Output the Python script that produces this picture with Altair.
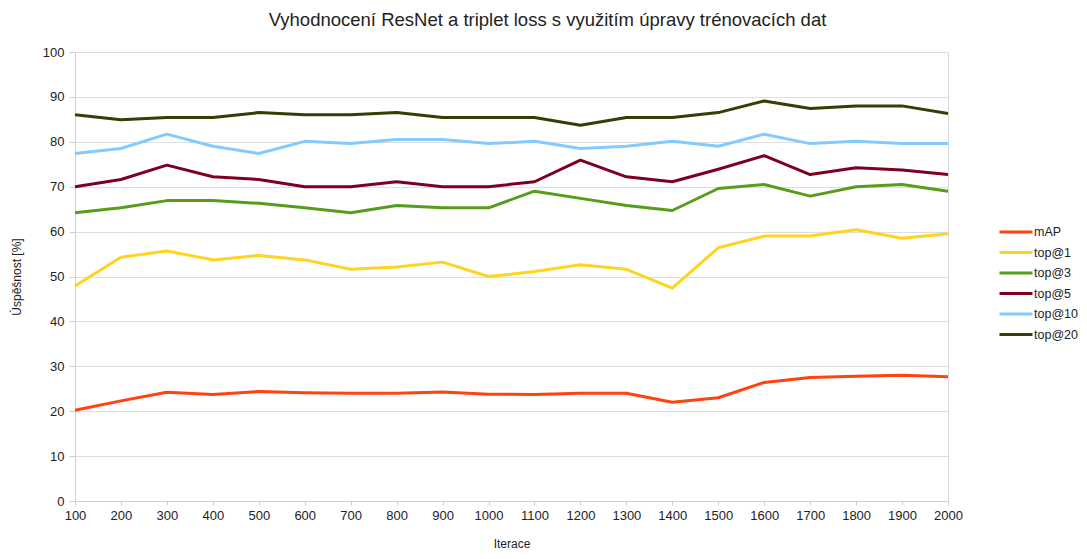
import altair as alt
import pandas as pd

iterations = [100, 200, 300, 400, 500, 600, 700, 800, 900, 1000,
              1100, 1200, 1300, 1400, 1500, 1600, 1700, 1800, 1900, 2000]
series_names = ["mAP", "top@1", "top@3", "top@5", "top@10", "top@20"]
series_colors = ["#ff420e", "#ffd320", "#579d1c", "#7e0021", "#83caff", "#314004"]

map_vals = [20.2, 22.3, 24.2, 23.7, 24.4, 24.1, 24.0, 24.0, 24.3, 23.8,
            23.7, 24.0, 24.0, 22.0, 23.0, 26.4, 27.5, 27.8, 28.0, 27.7]
top1_vals = [47.9, 54.3, 55.7, 53.7, 54.7, 53.7, 51.6, 52.1, 53.2, 50.0,
             51.1, 52.6, 51.6, 47.4, 56.4, 59.0, 59.0, 60.4, 58.5, 59.5]
top3_vals = [64.2, 65.3, 66.9, 66.9, 66.3, 65.3, 64.2, 65.8, 65.3, 65.3,
             69.0, 67.4, 65.8, 64.7, 69.6, 70.5, 67.9, 70.0, 70.5, 69.0]
top5_vals = [70.0, 71.6, 74.8, 72.2, 71.6, 70.0, 70.0, 71.1, 70.0, 70.0,
             71.1, 75.9, 72.2, 71.1, 73.9, 76.9, 72.7, 74.2, 73.7, 72.7]
top10_vals = [77.4, 78.5, 81.7, 79.0, 77.4, 80.1, 79.6, 80.5, 80.5, 79.6,
              80.1, 78.5, 79.0, 80.1, 79.0, 81.7, 79.6, 80.1, 79.6, 79.6]
top20_vals = [86.0, 84.9, 85.4, 85.4, 86.5, 86.0, 86.0, 86.5, 85.4, 85.4,
              85.4, 83.7, 85.4, 85.4, 86.5, 89.1, 87.4, 88.0, 88.0, 86.3]

y_ticks = [0, 10, 20, 30, 40, 50, 60, 70, 80, 90, 100]

all_vals = [map_vals, top1_vals, top3_vals, top5_vals, top10_vals, top20_vals]
rows = []
for name, vals in zip(series_names, all_vals):
    for it, v in zip(iterations, vals):
        rows.append({"Iterace": it, "value": v, "series": name})
df = pd.DataFrame(rows)

FONT = "Liberation Sans"

chart = alt.Chart(df).mark_line(strokeWidth=3, strokeJoin="round").encode(
    x=alt.X("Iterace:Q",
            scale=alt.Scale(domain=[100, 2000], nice=False, zero=False),
            axis=alt.Axis(values=iterations, format="d", grid=False,
                          title="Iterace", tickSize=4, labelPadding=4,
                          titlePadding=16, labelFontSize=13, titleFontSize=12,
                          labelFlush=False, labelOverlap=False)),
    y=alt.Y("value:Q",
            scale=alt.Scale(domain=[0, 100], nice=False),
            axis=alt.Axis(values=y_ticks, title="Úspěšnost [%]", tickSize=6,
                          labelPadding=5, titlePadding=19, labelFontSize=13,
                          titleFontSize=12)),
    color=alt.Color("series:N",
                    scale=alt.Scale(domain=series_names, range=series_colors),
                    sort=series_names,
                    legend=alt.Legend(title=None, orient="none",
                                      legendX=931, legendY=170,
                                      symbolType="M-2,0L2,0",
                                      symbolSize=272, symbolStrokeWidth=3,
                                      labelOffset=8, rowPadding=3.5,
                                      labelFontSize=12.5, padding=0)),
    detail="series:N",
).properties(
    width=873,
    height=449,
    autosize=alt.AutoSizeParams(type="none"),
    padding={"left": 67, "top": 44, "right": 131, "bottom": 50},
    title=alt.TitleParams("Vyhodnocení ResNet a triplet loss s využitím úpravy trénovacích dat",
                          fontSize=18.5, fontWeight="normal", anchor="middle",
                          dx=36, offset=17, color="#222222", font=FONT),
).configure_view(
    stroke="#d9d9d9"
).configure_axis(
    labelFont=FONT, titleFont=FONT, labelColor="#222222", titleColor="#222222",
    titleFontWeight="normal", gridColor="#dedede", domainColor="#cfcfcf",
    tickColor="#cfcfcf"
).configure_legend(
    labelFont=FONT, labelColor="#222222"
)

chart.save("out.html", embed_options={"renderer": "svg", "actions": False})
